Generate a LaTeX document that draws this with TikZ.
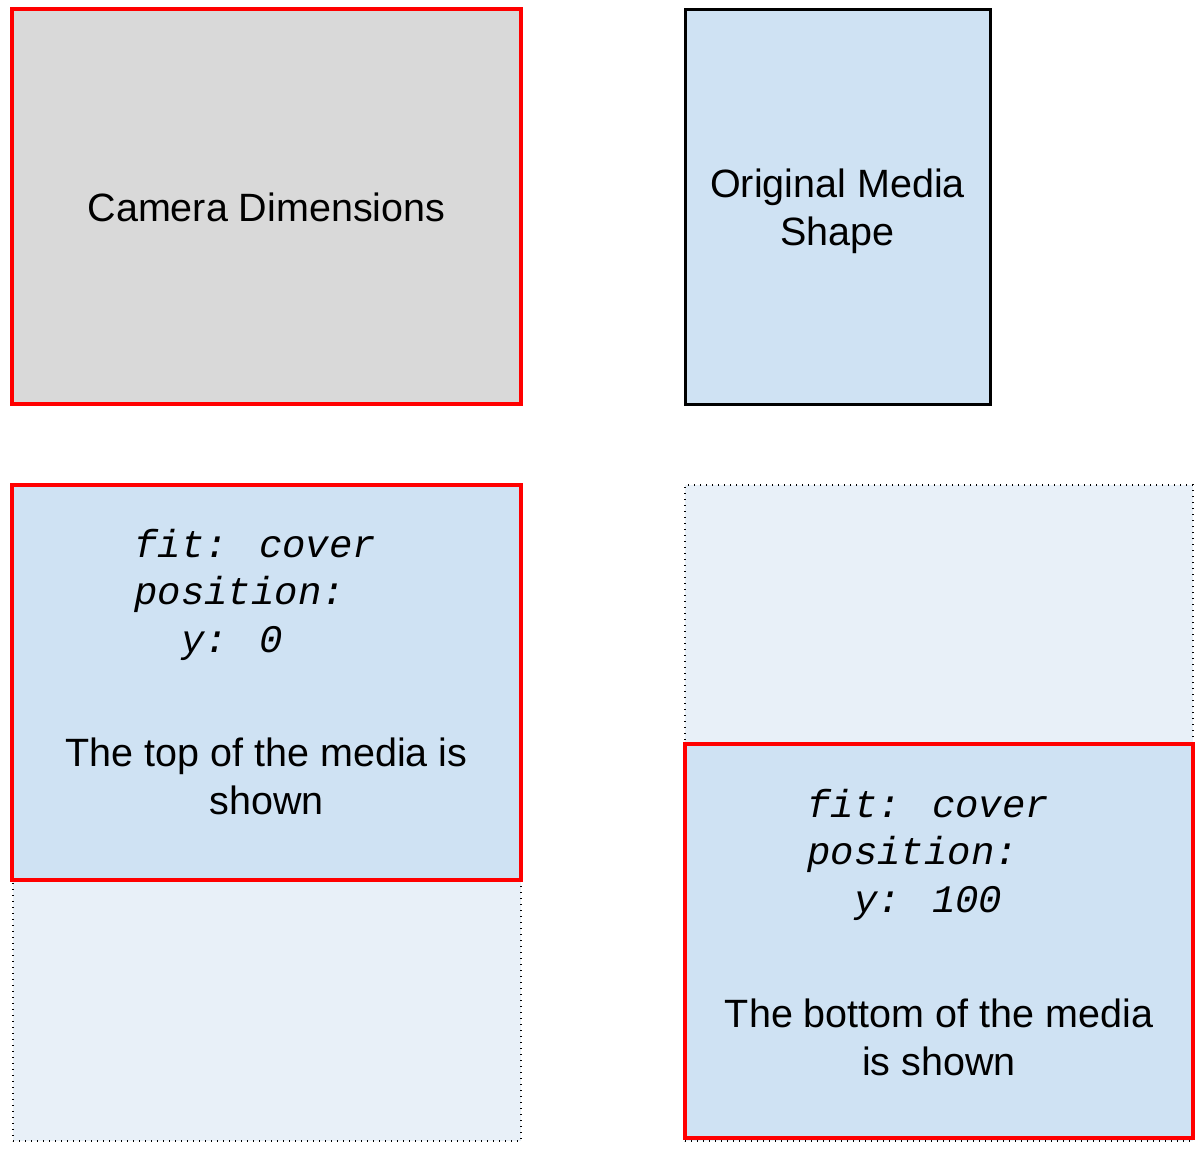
\documentclass[tikz,border=0pt]{standalone}
\usepackage{fontspec}
\setmainfont{Liberation Sans}
\newfontfamily\codefont{Liberation Mono}
\usetikzlibrary{positioning}
\definecolor{camgrey}{HTML}{D9D9D9}
\definecolor{mediablue}{HTML}{CFE2F3}
\definecolor{hiddenblue}{HTML}{E8F0F8}
\definecolor{framered}{HTML}{FF0000}
\tikzset{
  box/.style={inner sep=0pt, outer sep=0pt, anchor=north west},
  redframe/.style={box, draw=framered, line width=3.4pt},
  hiddenpart/.style={box, draw=black, fill=hiddenblue, line width=1.4pt, dash pattern=on 1.4pt off 4.6pt},
  caption/.style={font=\fontsize{39.5}{47.5}\selectfont, align=center, anchor=base, inner sep=0pt},
  code/.style={font=\codefont\itshape\fontsize{39}{47.5}\selectfont, align=left, anchor=base west, inner sep=0pt}
}
\begin{document}
\begin{tikzpicture}[x=1pt, y=-1pt]
  \useasboundingbox (0,0) rectangle (1200,1149);
  % top row
  \node[redframe, fill=camgrey, minimum width=509pt, minimum height=395pt] (camera) at (12,9) {};
  \node[box, draw=black, line width=3pt, fill=mediablue, minimum width=305pt, minimum height=395pt] (original) at (685,9) {};
  \node[caption] (cameratext) at ([shift={(0,212)}]camera.north) {Camera Dimensions};
  \node[caption] (originaltext) at ([shift={(0,236)}]original.north) {Original Media\\Shape};
  % y: 0
  \node[hiddenpart, minimum width=508pt, minimum height=656pt] (lefthidden) at (13,485) {};
  \node[redframe, fill=mediablue, minimum width=509pt, minimum height=395pt] (topshown) at (12,485) {};
  \node[code] (topcode) at ([shift={(122,167)}]topshown.north west) {fit: cover\\position:\\\phantom{y:}y: 0};
  \node[caption] (toptext) at ([shift={(0,329)}]topshown.north) {The top of the media is\\shown};
  % y: 100
  \node[hiddenpart, minimum width=508pt, minimum height=656pt] (righthidden) at (685,485) {};
  \node[redframe, fill=mediablue, minimum width=508pt, minimum height=394pt] (bottomshown) at (685,744) {};
  \node[code] (bottomcode) at ([shift={(122,168)}]bottomshown.north west) {fit: cover\\position:\\\phantom{y:}y: 100};
  \node[caption] (bottomtext) at ([shift={(0,331)}]bottomshown.north) {The bottom of the media\\is shown};
\end{tikzpicture}
\end{document}
